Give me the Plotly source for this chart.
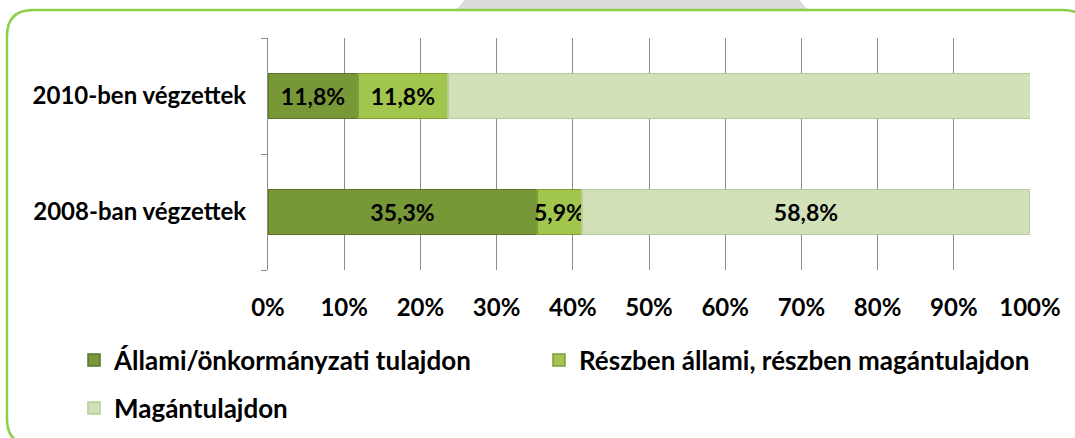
import plotly.graph_objects as go

categories = ["2008-ban végzettek", "2010-ben végzettek"]
series_names = ["Állami/önkormányzati tulajdon", "Részben állami, részben magántulajdon", "Magántulajdon"]
allami = [35.3, 11.8]
reszben = [5.9, 11.8]
magan = [58.8, 76.5]
x_ticks = [0, 10, 20, 30, 40, 50, 60, 70, 80, 90, 100]
x_ticktext = [f"{v}%" for v in x_ticks]

colors = ["#789838", "#a2c54e", "#d3e1b9"]
line_colors = ["#5a7428", "#7f9e38", "#b9cc98"]
legends = ["legend", "legend2", "legend3"]

W, H = 1075, 438
L, R, T, B = 268, 45, 38, 168
pw, ph = W - L - R, H - T - B

def px_x(px):
    return (px - L) / pw

def px_y(py):
    return (H - B - py) / ph

FONT = "Lato, Open Sans, sans-serif"

fig = go.Figure()
for name, vals, c, lc, lg in zip(series_names, [allami, reszben, magan], colors, line_colors, legends):
    fig.add_trace(go.Bar(
        name=name, y=categories, x=vals, orientation="h", legend=lg, showlegend=True,
        marker=dict(color=c, line=dict(color=lc, width=1.5)),
        text=[f"{v:.1f}%".replace(".", ",") for v in vals],
        textposition="inside", insidetextanchor="middle", textangle=0,
        textfont=dict(family=FONT, size=23, color="black", weight="bold"),
        constraintext="none", cliponaxis=False, hoverinfo="skip",
    ))

# rounded green frame
r = 26
x0, x1, y0, y1 = 7, 1089, 10, 445
rx, ry = r / pw, r / ph
X0, X1, Y0, Y1 = px_x(x0), px_x(x1), px_y(y0), px_y(y1)
path = (f"M {X0+rx},{Y0} L {X1-rx},{Y0} Q {X1},{Y0} {X1},{Y0-ry} "
        f"L {X1},{Y1+ry} Q {X1},{Y1} {X1-rx},{Y1} L {X0+rx},{Y1} "
        f"Q {X0},{Y1} {X0},{Y1+ry} L {X0},{Y0-ry} Q {X0},{Y0} {X0+rx},{Y0} Z")
trap = (f"M {px_x(466)},{px_y(-2)} L {px_x(798)},{px_y(-2)} L {px_x(808)},{px_y(10)} "
        f"L {px_x(456)},{px_y(10)} Z")

def legend_at(xpx, ypx):
    return dict(orientation="h", xref="container", yref="container",
                x=xpx / W, y=1 - ypx / H,
                xanchor="left", yanchor="middle", traceorder="normal",
                font=dict(family=FONT, size=26, weight="bold", color="black"),
                itemwidth=30, bgcolor="rgba(0,0,0,0)", visible=True)

fig.update_layout(
    width=W, height=H,
    margin=dict(l=L, r=R, t=T, b=B, autoexpand=False),
    paper_bgcolor="white", plot_bgcolor="white",
    barmode="stack", bargap=0.61, showlegend=True,
    font=dict(family=FONT, size=24, color="black"),
    xaxis=dict(range=[0, 100], tickvals=x_ticks, ticktext=x_ticktext,
               showgrid=True, gridcolor="#8c8c8c", gridwidth=1,
               showline=False, zeroline=False, ticks="",
               tickfont=dict(size=24, weight="bold"), ticklabelstandoff=21),
    yaxis=dict(type="category", categoryorder="array", categoryarray=categories,
               showline=True, linecolor="#8c8c8c", linewidth=1,
               ticks="outside", tickson="boundaries", ticklen=6, tickcolor="#8c8c8c",
               showgrid=False, tickfont=dict(size=24, weight="bold"), ticklabelstandoff=16),
    legend=legend_at(74, 360),
    legend2=legend_at(539, 360),
    legend3=legend_at(74, 408),
    shapes=[
        dict(type="path", path=trap, xref="paper", yref="paper",
             fillcolor="#dcdcdc", line=dict(width=0), layer="below"),
        dict(type="path", path=path, xref="paper", yref="paper",
             line=dict(color="#8cd048", width=2.5), fillcolor="rgba(0,0,0,0)", layer="above"),
    ],
)

fig.write_html("out.html", config={"displayModeBar": False},
               post_script="document.body.style.margin='0';")
